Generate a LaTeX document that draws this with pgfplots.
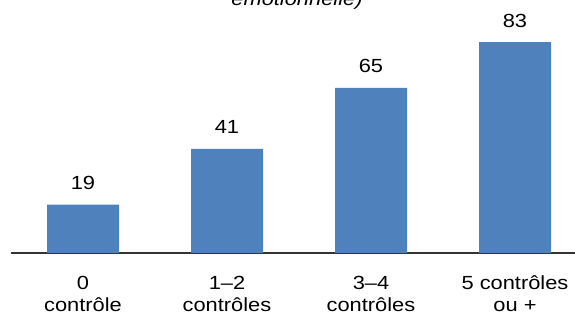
\documentclass[border=0pt]{standalone}
\usepackage{fontspec}
\setmainfont{Liberation Sans}[FakeStretch=1.15]
\usepackage{pgfplots}
\pgfplotsset{compat=1.18}
\definecolor{barblue}{HTML}{4F81BD}
\begin{document}
\begin{tikzpicture}
\useasboundingbox (0,0) rectangle (575pt,320pt);
\clip (0,0) rectangle (575pt,320pt);
\begin{axis}[
  at={(11pt,67pt)}, anchor=south west,
  scale only axis, width=576pt, height=254pt,
  xmin=-0.5, xmax=3.5, ymin=0, ymax=100,
  axis x line=bottom, axis y line=none,
  x axis line style={-, line width=1.4pt, color=black!80},
  xtick=data, major tick length=0pt,
  xticklabels={{0\\contrôle},{1–2\\contrôles},{3–4\\contrôles},{5 contrôles\\ou +}},
  xticklabel style={align=center, anchor=base, yshift=-59pt, inner sep=0pt,
    font=\fontsize{19pt}{22pt}\selectfont},
  /pgf/number format/assume math mode=true,
  ybar, bar width=72pt,
  nodes near coords,
  every node near coord/.append style={anchor=base, yshift=15pt, inner sep=0pt,
    font=\fontsize{19pt}{22pt}\selectfont, color=black},
]
\addplot[fill=barblue, draw=none] coordinates {(0,19) (1,41) (2,65) (3,83)};
\end{axis}
\node[anchor=base, inner sep=0pt, font=\fontsize{19pt}{22pt}\selectfont\itshape] at (297pt,314pt) {émotionnelle)};
\end{tikzpicture}
\end{document}
